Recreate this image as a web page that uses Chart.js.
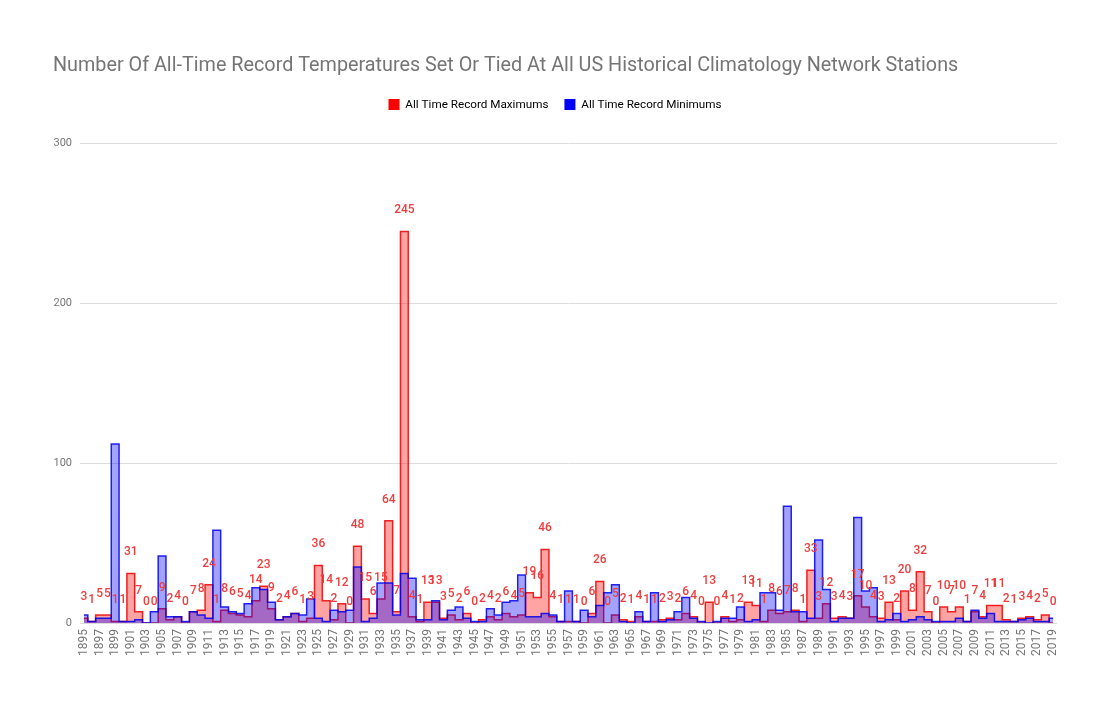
<!DOCTYPE html>
<html>
<head>
<meta charset="utf-8">
<script src="https://cdn.jsdelivr.net/npm/chart.js@4"></script>
<style>
  html, body { margin: 0; padding: 0; background: #fff; }
  #wrap { width: 1100px; height: 702px; }
</style>
</head>
<body>
<div id="wrap"><canvas id="recordChart"></canvas></div>
<script>
const years = [];
for (let y = 1895; y <= 2019; y++) years.push(String(y));

// values, 1895..2019
const recordMax = [
  3, 1, 5, 5, 1, 1, 31, 7, 0, 0, 9, 2, 4, 0, 7, 8, 24, 1, 8, 6,
  5, 4, 14, 23, 9, 2, 4, 6, 1, 3, 36, 14, 2, 12, 0, 48, 15, 6, 15, 64,
  7, 245, 4, 1, 13, 13, 3, 5, 2, 6, 0, 2, 4, 2, 6, 4, 5, 19, 16, 46,
  4, 1, 1, 1, 0, 6, 26, 0, 5, 2, 1, 4, 1, 1, 2, 3, 2, 6, 4, 0,
  13, 0, 4, 1, 2, 13, 11, 1, 8, 6, 7, 8, 1, 33, 3, 12, 3, 4, 3, 17,
  10, 4, 3, 13, 2, 20, 8, 32, 7, 0, 10, 7, 10, 1, 7, 4, 11, 11, 2, 1,
  3, 4, 2, 5, 0
];
const recordMin = [
  5, 1, 3, 3, 112, 1, 1, 2, 0, 7, 42, 4, 4, 1, 7, 5, 3, 58, 10, 7,
  6, 12, 22, 21, 13, 2, 4, 6, 5, 15, 3, 1, 8, 7, 8, 35, 1, 3, 25, 25,
  5, 31, 28, 2, 2, 14, 2, 8, 10, 3, 1, 1, 9, 5, 13, 14, 30, 4, 4, 6,
  5, 1, 20, 1, 8, 4, 11, 19, 24, 1, 0, 7, 1, 19, 1, 2, 7, 16, 3, 1,
  0, 1, 3, 3, 10, 1, 2, 19, 19, 8, 73, 7, 7, 3, 52, 21, 1, 3, 3, 66,
  20, 22, 1, 2, 6, 1, 2, 4, 2, 1, 1, 1, 3, 1, 8, 3, 6, 1, 1, 1,
  2, 3, 1, 1, 3
];

// red value labels above the maximum series
const maxLabels = {
  id: "maxLabels",
  beforeInit(chart) {
    // leave some room under the legend
    const fit = chart.legend.fit;
    chart.legend.fit = function () {
      fit.call(this);
      this.height += 23;
    };
  },
  afterDatasetsDraw(chart) {
    const meta = chart.getDatasetMeta(0);
    const c = chart.ctx;
    c.save();
    c.font = "500 12px Roboto";
    c.fillStyle = "#ee3d3d";
    c.textAlign = "center";
    c.textBaseline = "bottom";
    meta.data.forEach((pt, i) => {
      c.fillText(String(recordMax[i]), pt.x, pt.y - 15);
    });
    c.restore();
  }
};

const ctx = document.getElementById("recordChart").getContext("2d");
new Chart(ctx, {
  type: "line",
  data: {
    labels: years,
    datasets: [
      {
        label: "All Time Record Maximums",
        data: recordMax,
        stepped: "middle",
        fill: "origin",
        backgroundColor: "rgba(255,0,0,0.36)",
        borderColor: "rgba(235,0,0,0.85)",
        borderWidth: 1.5,
        pointRadius: 0,
        order: 2
      },
      {
        label: "All Time Record Minimums",
        data: recordMin,
        stepped: "middle",
        fill: "origin",
        backgroundColor: "rgba(0,0,255,0.36)",
        borderColor: "rgba(0,0,235,0.85)",
        borderWidth: 1.5,
        pointRadius: 0,
        order: 1
      }
    ]
  },
  options: {
    responsive: true,
    maintainAspectRatio: false,
    animation: false,
    layout: { padding: { top: 54, left: 53, right: 43, bottom: 40 } },
    plugins: {
      title: {
        display: true,
        text: "Number Of All-Time Record Temperatures Set Or Tied At All US Historical Climatology Network Stations",
        align: "start",
        color: "#757575",
        font: { family: "Roboto", size: 19.8, weight: "normal" },
        padding: { top: 0, bottom: 5 }
      },
      legend: {
        display: true,
        labels: {
          color: "#616161",
          font: { family: "Roboto", size: 11.7 },
          boxWidth: 11,
          boxHeight: 11,
          padding: 16,
          generateLabels(chart) {
            return chart.data.datasets.map((ds, i) => ({
              text: ds.label,
              fillStyle: i === 0 ? "#ff0000" : "#0000ff",
              strokeStyle: i === 0 ? "#ff0000" : "#0000ff",
              lineWidth: 0,
              datasetIndex: i
            }));
          }
        }
      },
      tooltip: { enabled: false }
    },
    scales: {
      x: {
        offset: true,
        grid: { display: false, drawTicks: false },
        border: { display: false },
        ticks: {
          color: "#757575",
          font: { family: "Roboto", size: 12 },
          autoSkip: false,
          minRotation: 90,
          maxRotation: 90,
          padding: 6,
          callback(value, index) {
            return index % 2 === 0 ? years[index] : "";
          }
        }
      },
      y: {
        min: 0,
        max: 300,
        afterFit(scale) {
          scale.width = 27;
        },
        grid: { color: "#dddddd", drawTicks: false },
        border: { display: false },
        ticks: {
          stepSize: 100,
          color: "#757575",
          font: { family: "Roboto", size: 11 },
          padding: 8
        }
      }
    }
  },
  plugins: [maxLabels]
});
</script>
</body>
</html>
